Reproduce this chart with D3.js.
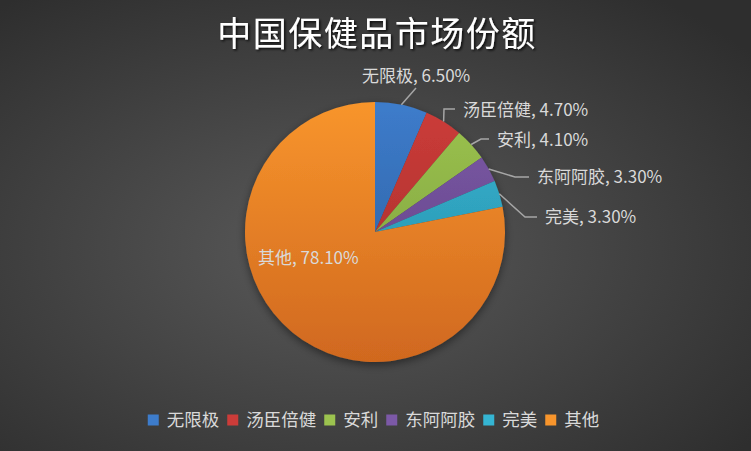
<!DOCTYPE html>
<html>
<head>
<meta charset="utf-8">
<script src="https://cdn.jsdelivr.net/npm/d3@7"></script>
<style>
  html, body { margin: 0; padding: 0; background: #3a3a3a; }
  svg { display: block; font-family: "Noto Sans CJK SC", "Noto Sans", sans-serif; }
</style>
</head>
<body>
<svg id="chart" width="751" height="451"></svg>
<script>
// data
const brands = ["无限极", "汤臣倍健", "安利", "东阿阿胶", "完美", "其他"];
const shares = [6.5, 4.7, 4.1, 3.3, 3.3, 78.1];
const colorsTop = ["#3d7ccb", "#cc3c39", "#9cc34f", "#7c59a7", "#35b5d3", "#f8952c"];
const colorsBottom = ["#2a5a98", "#a02d2a", "#789a3a", "#5d4080", "#2789a2", "#d0681f"];

// layout: label anchor offsets from the pie centre (Excel placement)
const labelAt = [[-13, -156], [88, -122], [122, -92], [162, -55], [170, -15], [-117, 26]];
const elbowAt = [[41, -144], [69, -123], [106, -93], [140, -55], [150, -15], null];

const W = 751, H = 451;
const cx = 375, cy = 232, r = 130;

const svg = d3.select("#chart");
const defs = svg.append("defs");

// background
const bg = defs.append("radialGradient").attr("id", "bg")
  .attr("cx", "45%").attr("cy", "55%").attr("r", "70%");
bg.append("stop").attr("offset", "0%").attr("stop-color", "#5a5a5a");
bg.append("stop").attr("offset", "100%").attr("stop-color", "#2e2e2e");
svg.append("rect").attr("width", W).attr("height", H).attr("fill", "url(#bg)");

// slice gradients (local coords of the pie group)
brands.forEach((b, i) => {
  const g = defs.append("linearGradient").attr("id", "g" + i)
    .attr("gradientUnits", "userSpaceOnUse")
    .attr("x1", 0).attr("y1", -r).attr("x2", 0).attr("y2", r);
  g.append("stop").attr("offset", "0%").attr("stop-color", colorsTop[i]);
  g.append("stop").attr("offset", "100%").attr("stop-color", colorsBottom[i]);
});

const shadow = defs.append("filter").attr("id", "shadow")
  .attr("x", "-20%").attr("y", "-20%").attr("width", "140%").attr("height", "140%");
shadow.append("feDropShadow").attr("dx", 0).attr("dy", 3).attr("stdDeviation", 4)
  .attr("flood-color", "#000").attr("flood-opacity", 0.45);

const tshadow = defs.append("filter").attr("id", "tshadow");
tshadow.append("feDropShadow").attr("dx", 1.5).attr("dy", 1.5).attr("stdDeviation", 1)
  .attr("flood-color", "#000").attr("flood-opacity", 0.8);

// title
svg.append("text")
  .attr("x", 377).attr("y", 46)
  .attr("text-anchor", "middle")
  .attr("fill", "#ffffff")
  .attr("font-size", 34)
  .attr("letter-spacing", 1.5)
  .attr("filter", "url(#tshadow)")
  .text("中国保健品市场份额");

// pie
const pie = d3.pie().sort(null).value((d) => d)(shares);
const arc = d3.arc().innerRadius(0).outerRadius(r);

const g = svg.append("g").attr("transform", `translate(${cx},${cy})`);
g.append("g").attr("filter", "url(#shadow)")
  .selectAll("path")
  .data(pie)
  .join("path")
  .attr("d", arc)
  .attr("fill", (d, i) => `url(#g${i})`);

// leader lines
const edge = d3.arc().innerRadius(r).outerRadius(r);
g.append("g").selectAll("polyline")
  .data(pie.filter((d, i) => elbowAt[i]))
  .join("polyline")
  .attr("points", (d) => {
    const i = d.index;
    const p = edge.centroid(d);
    const e = elbowAt[i];
    const pts = [p, e];
    const endX = labelAt[i][0] - 8;
    if (endX > e[0]) pts.push([endX, e[1]]);
    return pts.map((q) => q.join(",")).join(" ");
  })
  .attr("fill", "none")
  .attr("stroke", "#a6a6a6")
  .attr("stroke-width", 1.5);

// labels
g.append("g").selectAll("text")
  .data(pie)
  .join("text")
  .attr("x", (d, i) => labelAt[i][0])
  .attr("y", (d, i) => labelAt[i][1])
  .attr("dy", "0.35em")
  .attr("text-anchor", "start")
  .attr("fill", "#d9d9d9")
  .attr("font-size", 17)
  .text((d, i) => `${brands[i]}, ${d3.format(".2f")(shares[i])}%`);

// legend
const legend = svg.append("g");
const items = legend.selectAll("g").data(brands).join("g");
items.append("rect").attr("width", 11).attr("height", 11).attr("y", -5.5)
  .attr("fill", (d, i) => colorsTop[i]);
items.append("text").attr("x", 19).attr("dy", "0.35em")
  .attr("fill", "#d9d9d9").attr("font-size", 17.5).text((d) => d);

let x = 0;
items.each(function () {
  d3.select(this).attr("transform", `translate(${x},0)`);
  x += this.getBBox().width + 8;
});
const total = x - 8;
legend.attr("transform", `translate(${(W - total) / 2 - 2},420)`);
</script>
</body>
</html>
